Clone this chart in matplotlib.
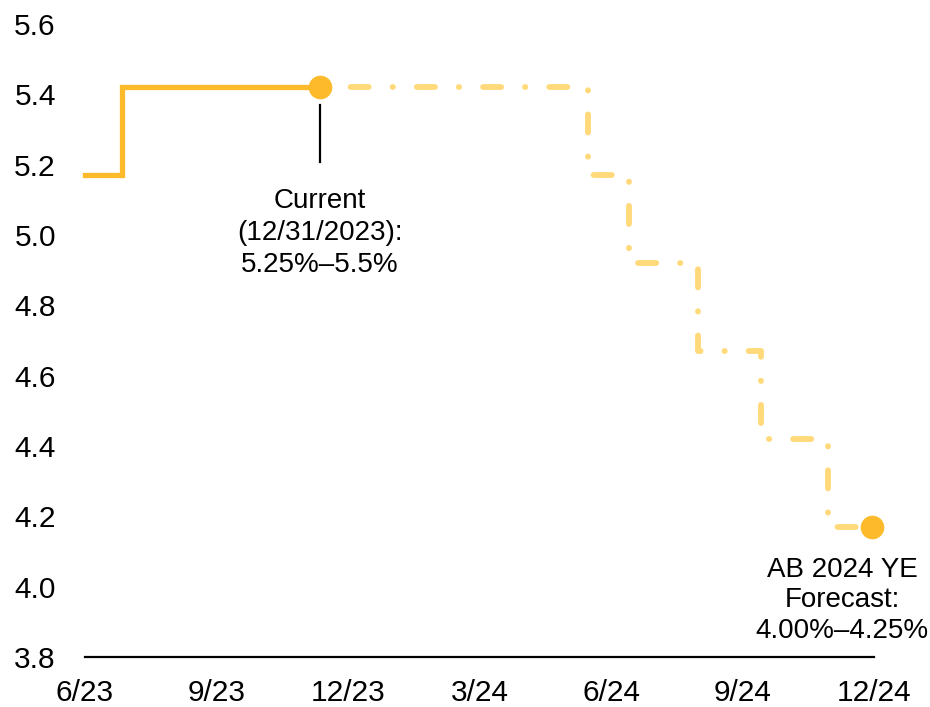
import matplotlib
matplotlib.use("Agg")
import matplotlib.pyplot as plt

plt.rcParams['font.family'] = ['Liberation Sans', 'DejaVu Sans']

# x in months since 6/23
tick_pos = [0, 3, 6, 9, 12, 15, 18]
tick_labels = ["6/23", "9/23", "12/23", "3/24", "6/24", "9/24", "12/24"]
y_ticks = [3.8, 4.0, 4.2, 4.4, 4.6, 4.8, 5.0, 5.2, 5.4, 5.6]

# actual rate path (step changes)
actual_x = [0, 0.85, 5.36]
actual_y = [5.17, 5.42, 5.42]

# forecast path
fcst_x = [5.36, 11.48, 12.41, 13.99, 15.42, 16.95, 17.95]
fcst_y = [5.42, 5.17, 4.92, 4.67, 4.42, 4.17, 4.17]

solid_col = "#FDBB2B"
fcst_col = "#FFD97A"

fig = plt.figure(figsize=(9.3, 7.07), dpi=100)
ax = fig.add_axes([85 / 930, 50 / 707, 789 / 930, 633 / 707])

ax.plot(fcst_x, fcst_y, drawstyle="steps-post", color=fcst_col, lw=4.2,
        linestyle=(6.1, (3.1, 4.1, 0.05, 4.1)), dash_capstyle="round",
        solid_capstyle="round", clip_on=False, zorder=2)
ax.plot(actual_x, actual_y, drawstyle="steps-post", color=solid_col, lw=3.8,
        solid_joinstyle="miter", clip_on=False, zorder=3)

# end-point markers
ax.plot([actual_x[-1]], [actual_y[-1]], "o", color=solid_col, ms=16,
        clip_on=False, zorder=4)
ax.plot([fcst_x[-1]], [fcst_y[-1]], "o", color=solid_col, ms=16,
        clip_on=False, zorder=4)

# callouts
ax.plot([actual_x[-1], actual_x[-1]], [5.208, 5.37], color="black", lw=1.6)
ax.text(actual_x[-1], 5.135, "Current\n(12/31/2023):\n5.25%\u20135.5%",
        ha="center", va="top", fontsize=20, linespacing=1.3)
ax.text(17.27, 4.085, "AB 2024 YE\nForecast:\n4.00%\u20134.25%",
        ha="center", va="top", fontsize=20, linespacing=1.22)

ax.set_xlim(0, 18)
ax.set_ylim(3.8, 5.6)
ax.set_xticks(tick_pos)
ax.set_xticklabels(tick_labels)
ax.set_yticks(y_ticks)
ax.set_yticklabels([f"{v:.1f}" for v in y_ticks])
ax.tick_params(axis="both", length=0, labelsize=21.5)
ax.tick_params(axis="y", pad=21)
ax.tick_params(axis="x", pad=16)

for s in ["top", "right", "left"]:
    ax.spines[s].set_visible(False)
ax.spines["bottom"].set_linewidth(1.6)

fig.savefig("out.png", dpi=100)
